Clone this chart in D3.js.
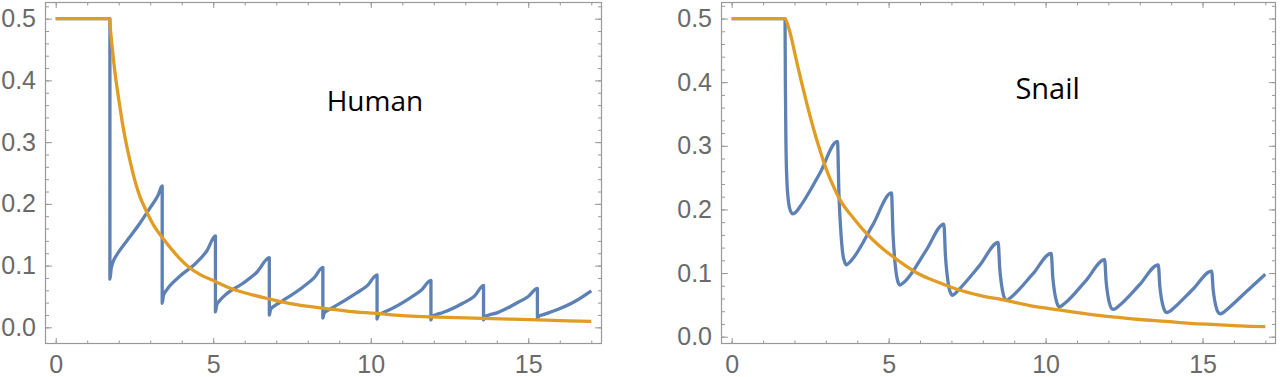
<!DOCTYPE html>
<html>
<head>
<meta charset="utf-8">
<script src="https://cdn.jsdelivr.net/npm/d3@7"></script>
<style>
  html, body { margin: 0; padding: 0; background: #fff; }
  svg { display: block; }
</style>
</head>
<body>
<svg id="chart" width="1280" height="377"></svg>
<script>
// ---------- data ----------
const panelTitles = ["Human", "Snail"];
const xTickValues = [0, 5, 10, 15];
const yTickValues = [0.0, 0.1, 0.2, 0.3, 0.4, 0.5];
const xTickLabels = ["0", "5", "10", "15"];
const yTickLabels = ["0.0", "0.1", "0.2", "0.3", "0.4", "0.5"];

const humanBlue = [
  [0,0.5],[1.72,0.5],[1.72,0.078],[1.76,0.095],[1.82,0.106],[1.92,0.116],[2.01,0.123],[2.3,0.143],[2.65,0.167],[3.0,0.194],[3.25,0.214],[3.38,0.229],
  [3.38,0.039],[3.42,0.052],[3.5,0.059],[3.6,0.066],[3.92,0.082],[4.45,0.104],[4.8,0.124],[5.07,0.148],
  [5.07,0.025],[5.11,0.036],[5.2,0.043],[5.35,0.051],[5.93,0.071],[6.4,0.090],[6.78,0.113],
  [6.78,0.020],[6.82,0.029],[6.95,0.035],[7.2,0.043],[7.84,0.065],[8.2,0.080],[8.48,0.097],
  [8.48,0.015],[8.52,0.023],[8.65,0.028],[8.79,0.032],[9.53,0.055],[9.9,0.068],[10.2,0.085],
  [10.2,0.0135],[10.24,0.020],[10.35,0.023],[10.49,0.026],[11.23,0.047],[11.6,0.060],[11.91,0.076],
  [11.91,0.012],[11.95,0.018],[12.1,0.021],[12.29,0.024],[12.92,0.039],[13.3,0.051],[13.58,0.068],
  [13.58,0.012],[13.62,0.017],[13.75,0.020],[13.98,0.023],[14.62,0.039],[15.0,0.050],[15.29,0.063],
  [15.29,0.0125],[15.33,0.018],[15.5,0.021],[15.89,0.028],[16.52,0.043],[17.0,0.059]
];
const humanOrange = [
  [0,0.5],[1.7,0.5],[1.75,0.475],[1.82,0.44],[1.9,0.405],[2.0,0.37],[2.12,0.33],[2.25,0.295],[2.38,0.265],
  [2.5,0.24],[2.65,0.215],[2.86,0.19],[3.1,0.166],[3.39,0.145],[3.7,0.125],[4.0,0.108],[4.24,0.097],
  [4.6,0.085],[5.08,0.074],[5.5,0.064],[6.14,0.054],[6.78,0.046],[7.5,0.038],[8.47,0.031],[9.3,0.026],
  [10.19,0.0225],[11.0,0.019],[11.9,0.017],[13.56,0.0145],[15.3,0.012],[17.0,0.0095]
];
const snailBlue = [
  [0,0.5],[1.70,0.5],[1.71,0.40],[1.73,0.30],[1.76,0.245],[1.81,0.212],[1.87,0.198],[1.95,0.193],[2.05,0.196],[2.2,0.206],[2.8,0.256],[3.37,0.307],
  [3.42,0.220],[3.47,0.171],[3.54,0.130],[3.61,0.116],[3.65,0.113],[3.74,0.116],[3.85,0.122],[4.5,0.176],[5.09,0.226],
  [5.14,0.161],[5.19,0.124],[5.26,0.094],[5.32,0.083],[5.36,0.081],[5.45,0.084],[5.56,0.089],[6.2,0.136],[6.76,0.177],
  [6.81,0.127],[6.86,0.099],[6.93,0.075],[6.99,0.067],[7.03,0.065],[7.12,0.068],[7.22,0.073],[7.9,0.112],[8.49,0.148],
  [8.54,0.107],[8.59,0.084],[8.66,0.065],[8.72,0.058],[8.76,0.057],[8.85,0.060],[8.95,0.064],[9.6,0.099],[10.18,0.131],
  [10.23,0.093],[10.28,0.072],[10.35,0.055],[10.41,0.048],[10.46,0.047],[10.55,0.050],[10.65,0.054],[11.3,0.089],[11.88,0.121],
  [11.93,0.086],[11.98,0.066],[12.05,0.050],[12.11,0.044],[12.16,0.043],[12.25,0.045],[12.35,0.049],[13.0,0.082],[13.59,0.113],
  [13.64,0.079],[13.69,0.060],[13.76,0.045],[13.82,0.039],[13.87,0.038],[13.96,0.040],[14.06,0.044],[14.7,0.075],[15.29,0.103],
  [15.34,0.073],[15.39,0.056],[15.46,0.042],[15.52,0.037],[15.57,0.036],[15.66,0.038],[15.76,0.042],[16.4,0.071],[17.0,0.098]
];
const snailOrange = [
  [0,0.5],[1.70,0.5],[1.80,0.488],[1.90,0.47],[2.0,0.448],[2.1,0.426],[2.25,0.395],[2.4,0.365],[2.6,0.328],
  [2.8,0.295],[3.0,0.265],[3.2,0.241],[3.43,0.217],[3.9,0.185],[4.3,0.162],[4.7,0.143],[5.13,0.126],[5.5,0.113],
  [5.95,0.099],[6.5,0.087],[7.15,0.075],[7.9,0.065],[8.74,0.057],[9.5,0.049],[10.44,0.042],[11.3,0.036],
  [12.13,0.031],[13.0,0.027],[13.83,0.024],[14.6,0.021],[15.43,0.019],[16.2,0.017],[17.0,0.0157]
];

// ---------- layout ----------
const BLUE = "#5E81B5", ORANGE = "#E19C24", FRAME = "#999999", LABEL = "#6a6a6a";
const panels = [
  { title: panelTitles[0], blue: humanBlue, orange: humanOrange,
    xr: [45, 602], yd: [-0.027, 0.527], titlePos: [8.6, 0.35], titleSize: 28 },
  { title: panelTitles[1], blue: snailBlue, orange: snailOrange,
    xr: [721, 1276], yd: [-0.0115, 0.526], titlePos: [9.04, 0.374], titleSize: 29 }
];
const frameTop = 2, frameBottom = 344;
const svg = d3.select("#chart");
svg.append("rect").attr("width", 1280).attr("height", 377).attr("fill", "#fff");

const minorX = d3.range(0, 18, 1);
const minorY = d3.range(0, 0.521, 0.02).map(v => +v.toFixed(2));

panels.forEach(p => {
  const x = d3.scaleLinear().domain([-0.34, 17.34]).range(p.xr);
  const y = d3.scaleLinear().domain(p.yd).range([frameBottom, frameTop]);
  const g = svg.append("g");

  function styleAxis(sel) {
    sel.select(".domain").remove();
    sel.selectAll(".tick line").attr("stroke", FRAME).attr("stroke-width", 1);
    sel.selectAll(".tick text").attr("fill", LABEL)
      .style("font-family", "'Liberation Sans', Arial, sans-serif").style("font-size", "25px");
  }
  // minor ticks (all four sides)
  g.append("g").attr("transform", `translate(0,${frameBottom})`)
    .call(d3.axisBottom(x).tickValues(minorX).tickSize(-3.5).tickFormat("")).call(styleAxis);
  g.append("g").attr("transform", `translate(0,${frameTop})`)
    .call(d3.axisTop(x).tickValues(minorX).tickSize(-3.5).tickFormat("")).call(styleAxis);
  g.append("g").attr("transform", `translate(${p.xr[0]},0)`)
    .call(d3.axisLeft(y).tickValues(minorY).tickSize(-4).tickFormat("")).call(styleAxis);
  g.append("g").attr("transform", `translate(${p.xr[1]},0)`)
    .call(d3.axisRight(y).tickValues(minorY).tickSize(-4).tickFormat("")).call(styleAxis);
  // major ticks
  g.append("g").attr("transform", `translate(0,${frameBottom})`)
    .call(d3.axisBottom(x).tickValues(xTickValues).tickSize(-6).tickPadding(11)
      .tickFormat((d, i) => xTickLabels[i])).call(styleAxis);
  g.append("g").attr("transform", `translate(0,${frameTop})`)
    .call(d3.axisTop(x).tickValues(xTickValues).tickSize(-6).tickFormat("")).call(styleAxis);
  g.append("g").attr("transform", `translate(${p.xr[0]},0)`)
    .call(d3.axisLeft(y).tickValues(yTickValues).tickSize(-7).tickPadding(9)
      .tickFormat((d, i) => yTickLabels[i])).call(styleAxis);
  g.append("g").attr("transform", `translate(${p.xr[1]},0)`)
    .call(d3.axisRight(y).tickValues(yTickValues).tickSize(-7).tickFormat("")).call(styleAxis);

  // frame
  g.append("rect").attr("x", p.xr[0] + 0.5).attr("y", frameTop + 0.5)
    .attr("width", p.xr[1] - p.xr[0] - 1).attr("height", frameBottom - frameTop - 1)
    .attr("fill", "none").attr("stroke", FRAME).attr("stroke-width", 1.2);

  const line = d3.line().x(d => x(d[0])).y(d => y(d[1])).curve(d3.curveMonotoneX);
  g.append("path").datum(p.blue).attr("d", line)
    .attr("fill", "none").attr("stroke", BLUE).attr("stroke-width", 3.3).attr("stroke-linejoin", "round");
  g.append("path").datum(p.orange).attr("d", line)
    .attr("fill", "none").attr("stroke", ORANGE).attr("stroke-width", 3.3).attr("stroke-linejoin", "round");

  g.append("text").attr("x", x(p.titlePos[0])).attr("y", y(p.titlePos[1]))
    .text(p.title).attr("fill", "#000")
    .style("font-family", "'Open Sans', 'Noto Sans', sans-serif").style("font-size", p.titleSize + "px");
});
</script>
</body>
</html>
